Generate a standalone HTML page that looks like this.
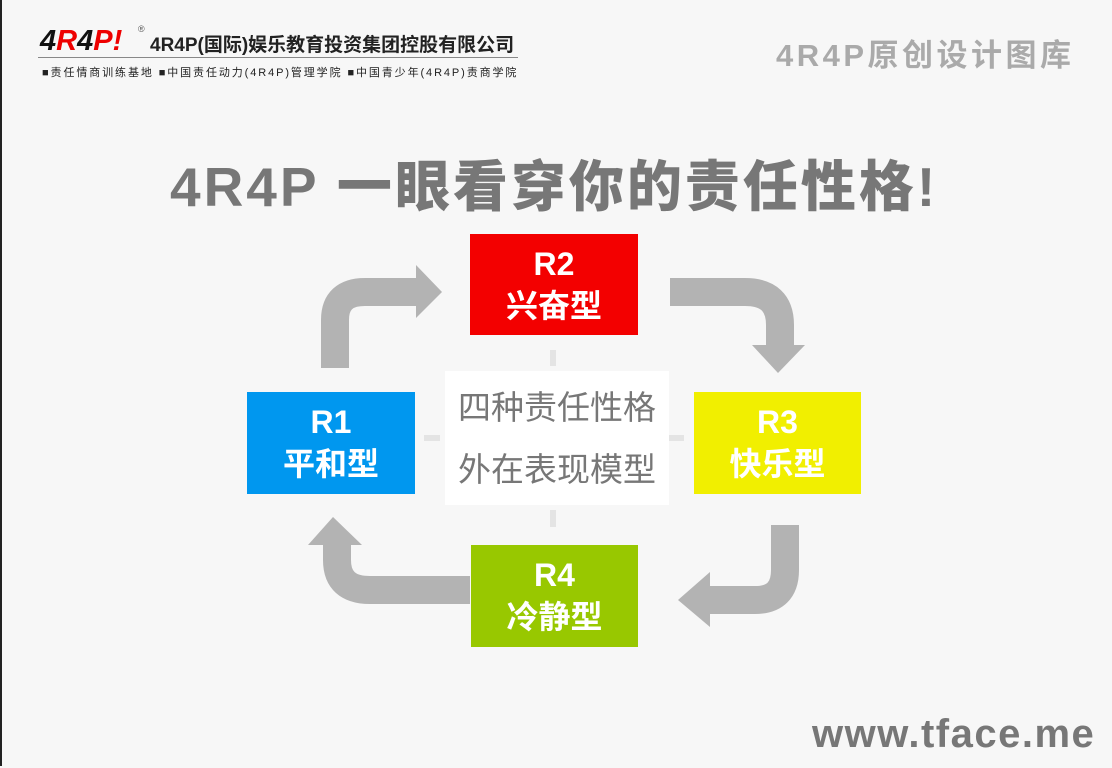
<!DOCTYPE html>
<html><head><meta charset="utf-8"><style>
body{margin:0;width:1112px;height:768px;background:#f7f7f7;position:relative;overflow:hidden;font-family:"Liberation Sans","Noto Sans CJK SC",sans-serif}
.frame{position:absolute;left:0;top:0;width:1110px;height:766px;border-left:2px solid #222;}
.box{position:absolute;color:#fff;font-weight:bold;text-align:center;font-size:32px;line-height:42px;display:flex;flex-direction:column;justify-content:center}
.abs{position:absolute;white-space:nowrap}
</style></head><body>
<div class="frame"></div>
<div class="abs" style="left:40px;top:25px;font-size:29px;font-weight:900;font-style:italic;color:#111;letter-spacing:0px">4<span style="color:#e00">R</span>4<span style="color:#e00">P</span><span style="color:#e00">!</span></div>
<div class="abs" style="left:138px;top:24px;font-size:9px;color:#555">®</div>
<div class="abs" style="left:150px;top:30px;font-size:19px;color:#222;font-weight:bold;letter-spacing:0px">4R4P(国际)娱乐教育投资集团控股有限公司</div>
<div class="abs" style="left:38px;top:57px;width:480px;height:1px;background:#888"></div>
<div class="abs" style="left:42px;top:64px;font-size:11px;color:#222;letter-spacing:1.9px">■责任情商训练基地 ■中国责任动力(4R4P)管理学院 ■中国青少年(4R4P)责商学院</div>
<div class="abs" style="left:776px;top:30px;font-size:31px;font-weight:bold;color:#aaa;letter-spacing:3.5px">4R4P原创设计图库</div>
<div class="abs" style="left:170px;top:142px;font-size:55px;font-weight:900;color:#777;letter-spacing:3px">4R4P 一眼看穿你的责任性格!</div>
<svg class="abs" style="left:0;top:0" width="1112" height="768">
<g fill="none" stroke="#b3b3b3" stroke-width="28">
<path d="M335 368 V320 Q335 292 365 292 H418"/>
<path d="M670 292 H745 Q780 292 780 325 V345"/>
<path d="M785 525 V570 Q785 600 755 600 H710"/>
<path d="M470 590 H370 Q337 590 337 560 V545"/>
</g>
<g fill="#b3b3b3">
<polygon points="416,265 442,292 416,318"/>
<polygon points="752,345 805,345 778,373"/>
<polygon points="710,572 710,627 678,600"/>
<polygon points="308,545 362,545 333,517"/>
</g>
<g stroke="#e4e4e4" stroke-width="6">
<line x1="553" y1="350" x2="553" y2="366"/><line x1="553" y1="510" x2="553" y2="527"/>
<line x1="424" y1="438" x2="440" y2="438"/><line x1="668" y1="438" x2="684" y2="438"/>
</g>
</svg>
<div class="box" style="left:470px;top:234px;width:168px;height:101px;background:#f30000">R2<br>兴奋型</div>
<div class="box" style="left:247px;top:392px;width:168px;height:102px;background:#0097ef">R1<br>平和型</div>
<div class="box" style="left:694px;top:392px;width:167px;height:102px;background:#f1ef00">R3<br>快乐型</div>
<div class="box" style="left:471px;top:545px;width:167px;height:102px;background:#98c800">R4<br>冷静型</div>
<div class="abs" style="left:445px;top:371px;width:224px;height:134px;background:#fff;color:#777;font-size:33px;line-height:62px;text-align:center;padding-top:6px;box-sizing:border-box">四种责任性格<br>外在表现模型</div>
<div class="abs" style="left:812px;top:712px;font-size:40px;font-weight:bold;color:#777;letter-spacing:1.5px">www.tface.me</div>
</body></html>
